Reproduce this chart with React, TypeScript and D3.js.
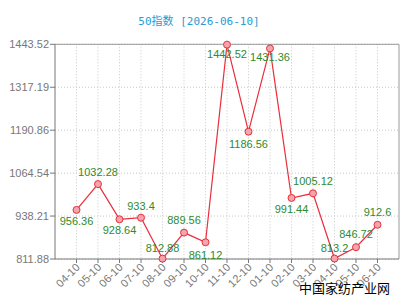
import React from 'react';
import * as d3 from 'd3';

const categories = ['04-10','05-10','06-10','07-10','08-10','09-10','10-10','11-10','12-10','01-10','02-10','03-10','04-10','05-10','06-10'];
const values = [956.36, 1032.28, 928.64, 933.4, 812.88, 889.56, 861.12, 1442.52, 1186.56, 1431.36, 991.44, 1005.12, 813.2, 846.72, 912.6];
const yTicks = [811.88, 938.21, 1064.54, 1190.86, 1317.19, 1443.52];
const labelDy = [15, -8, 15, -8, -6.5, -9, 17, 13, 16, 13, 15.5, -8, -6.5, -9, -8.5];
const title = '50指数 [2026-06-10]';
const watermark = '中国家纺产业网';

const W = 400, H = 300;
const L = 55, R = 399, T = 44.3, B = 259;

export default function App() {
  const x = d3.scalePoint<number>().domain(d3.range(categories.length)).range([L, R]).padding(1);
  const y = d3.scaleLinear().domain([yTicks[0], yTicks[yTicks.length - 1]]).range([B, T]);
  const line = d3.line<number>().x((_, i) => x(i)!).y(v => y(v));
  const font = '"Liberation Sans", Arial, sans-serif';
  return (
    <svg width={W} height={H} style={{ position: 'absolute', left: 0, top: 0, background: '#fff' }}>
      <text x={199} y={25} textAnchor="middle" fill="#2a9bd4" fontSize={11}
        fontFamily='"DejaVu Sans Mono", "Noto Sans CJK SC", monospace'>{title}</text>
      {/* grid */}
      {yTicks.map((t, i) => (
        <line key={'gy' + i} x1={L} x2={R} y1={y(t)} y2={y(t)} stroke="#c8c8c8" strokeDasharray="1,2" />
      ))}
      {categories.map((_, i) => (
        <line key={'gx' + i} x1={x(i)} x2={x(i)} y1={T} y2={B} stroke="#c8c8c8" strokeDasharray="1,2" />
      ))}
      {/* frame */}
      <line x1={L} x2={R} y1={T} y2={T} stroke="#999" />
      <line x1={R} x2={R} y1={T} y2={B} stroke="#999" />
      <line x1={L} x2={L} y1={T} y2={B} stroke="#777" />
      <line x1={L} x2={R} y1={B} y2={B} stroke="#777" />
      {/* y axis */}
      {yTicks.map((t, i) => (
        <g key={'yt' + i}>
          <line x1={L - 5} x2={L} y1={y(t)} y2={y(t)} stroke="#777" />
          <text x={L - 6} y={y(t) + 4} textAnchor="end" fontSize={11} fill="#777" fontFamily={font}>{t.toFixed(2)}</text>
        </g>
      ))}
      {/* x axis */}
      {categories.map((c, i) => (
        <g key={'xt' + i}>
          <line x1={x(i)} x2={x(i)} y1={B} y2={B + 4} stroke="#777" />
          <text transform={`translate(${x(i)! + 4},${B + 9}) rotate(-45)`} textAnchor="end" fontSize={11} fill="#777" fontFamily={font}>{c}</text>
        </g>
      ))}
      <path d={line(values) || ''} fill="none" stroke="#e8303c" strokeWidth={1.2} />
      {values.map((v, i) => (
        <circle key={'p' + i} cx={x(i)} cy={y(v)} r={3.5} fill="#f4a4ac" stroke="#e8303c" strokeWidth={1} />
      ))}
      {values.map((v, i) => (
        <text key={'l' + i} x={x(i)} y={y(v) + labelDy[i]} textAnchor="middle" fontSize={11} fill="#2e8b2e" fontFamily={font}>{String(v)}</text>
      ))}
      <text x={390} y={293} textAnchor="end" fontSize={13} fill="#000" fontFamily='"Noto Sans CJK SC", sans-serif'>{watermark}</text>
    </svg>
  );
}
